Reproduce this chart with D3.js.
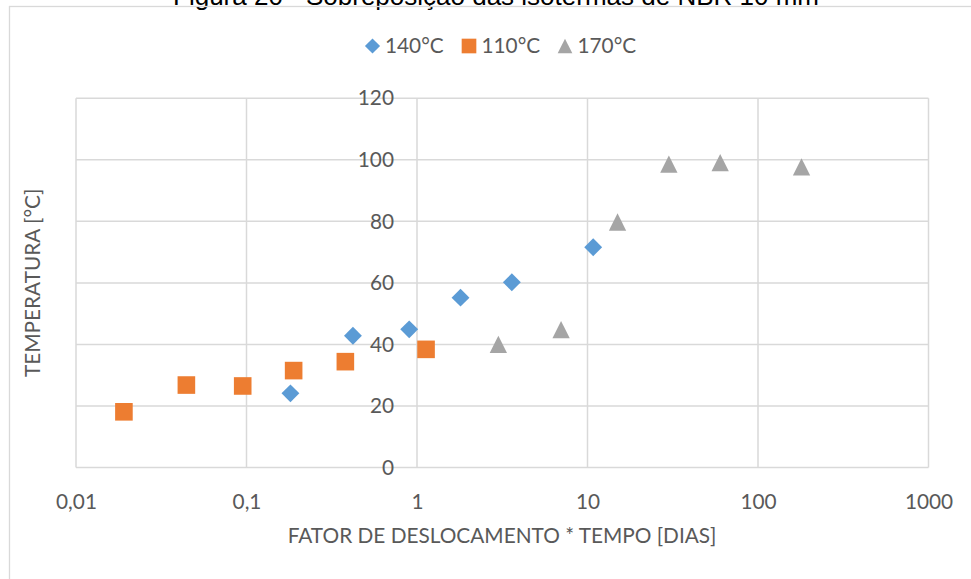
<!DOCTYPE html>
<html>
<head>
<meta charset="utf-8">
<script src="https://cdn.jsdelivr.net/npm/d3@7/dist/d3.min.js"></script>
<style>
  html, body { margin: 0; padding: 0; background: #fff; }
  svg { display: block; }
</style>
</head>
<body>
<svg id="chart" width="971" height="579"></svg>
<script>
// Shifted time (days) and temperature for each isotherm
const series140x = [0.181, 0.421, 0.90, 1.80, 3.6, 10.8];
const series140y = [24.1, 42.8, 44.9, 55.2, 60.2, 71.6];
const series110x = [0.0191, 0.0444, 0.095, 0.189, 0.380, 1.13];
const series110y = [18.1, 26.8, 26.5, 31.5, 34.4, 38.4];
const series170x = [3.0, 7.0, 15.0, 30.0, 60.0, 180.0];
const series170y = [40.0, 44.8, 79.8, 98.6, 99.1, 97.7];

const seriesNames = ["140°C", "110°C", "170°C"];
const xTicks = [0.01, 0.1, 1, 10, 100, 1000];
const xTickLabels = ["0,01", "0,1", "1", "10", "100", "1000"];
const yTicks = [0, 20, 40, 60, 80, 100, 120];
const yTickLabels = ["0", "20", "40", "60", "80", "100", "120"];

const titleText = "Figura 20 - Sobreposição das isotermas de NBR 10 mm";
const xTitle = "FATOR DE DESLOCAMENTO * TEMPO [DIAS]";
const yTitle = "TEMPERATURA [°C]";

const colors = ["#5B9BD5", "#ED7D31", "#A5A5A5"];
const gridColor = "#D9D9D9";
const textColor = "#595959";
const font = "Lato, 'Open Sans', sans-serif";
const fontSize = 20.8;

const svg = d3.select("#chart");

const x = d3.scaleLog().domain([0.01, 1000]).range([76, 928.5]);
const y = d3.scaleLinear().domain([0, 120]).range([467.5, 98.3]);

// Caption above the chart frame (partially cut at top)
svg.append("text")
  .attr("x", 496).attr("y", 4.5)
  .attr("text-anchor", "middle")
  .attr("font-family", "'Liberation Sans', Arial, sans-serif")
  .attr("font-size", 26)
  .attr("fill", "#000")
  .text(titleText);

// Chart frame
svg.append("rect")
  .attr("x", 9.5).attr("y", 6.5)
  .attr("width", 1000).attr("height", 1000)
  .attr("fill", "none")
  .attr("stroke", gridColor)
  .attr("stroke-width", 1.3);

// Gridlines
const grid = svg.append("g");
grid.selectAll("line.h").data(yTicks).join("line")
  .attr("class", "h")
  .attr("x1", x(0.01)).attr("x2", x(1000))
  .attr("y1", d => y(d)).attr("y2", d => y(d))
  .attr("stroke", gridColor).attr("stroke-width", 1.5);
grid.selectAll("line.v").data(xTicks).join("line")
  .attr("class", "v")
  .attr("x1", d => x(d)).attr("x2", d => x(d))
  .attr("y1", y(120)).attr("y2", y(0))
  .attr("stroke", gridColor).attr("stroke-width", 1.5);

// Axes: the value axis crosses at x = 1
const xAxis = d3.axisBottom(x)
  .tickValues(xTicks)
  .tickFormat((d, i) => xTickLabels[i])
  .tickSize(0).tickPadding(27);
const gx = svg.append("g").attr("transform", `translate(0,${y(0)})`).call(xAxis);

const yAxis = d3.axisLeft(y)
  .tickValues(yTicks)
  .tickFormat((d, i) => yTickLabels[i])
  .tickSize(0).tickPadding(23);
const gy = svg.append("g").attr("transform", `translate(${x(1)},0)`).call(yAxis);

[gx, gy].forEach(g => {
  g.select(".domain").remove();
  g.selectAll("text")
    .attr("font-family", font)
    .attr("font-size", fontSize)
    .attr("fill", textColor);
});

// Axis titles
svg.append("text")
  .attr("x", 502).attr("y", 543)
  .attr("text-anchor", "middle")
  .attr("font-family", font).attr("font-size", fontSize)
  .attr("fill", textColor)
  .text(xTitle);

svg.append("text")
  .attr("transform", `translate(40,${(y(0) + y(120)) / 2}) rotate(-90)`)
  .attr("text-anchor", "middle")
  .attr("font-family", font).attr("font-size", fontSize)
  .attr("fill", textColor)
  .text(yTitle);

// Marker shapes
const diamond = {
  draw(ctx, size) {
    const r = Math.sqrt(size) / 2 * Math.SQRT2;
    ctx.moveTo(0, -r); ctx.lineTo(r, 0); ctx.lineTo(0, r); ctx.lineTo(-r, 0); ctx.closePath();
  }
};
const square = {
  draw(ctx, size) {
    const h = Math.sqrt(size) / 2;
    ctx.rect(-h, -h, 2 * h, 2 * h);
  }
};
const triangle = {
  draw(ctx, size) {
    const h = Math.sqrt(size) / 2;
    ctx.moveTo(0, -h); ctx.lineTo(h, h); ctx.lineTo(-h, h); ctx.closePath();
  }
};
const shapes = [diamond, square, triangle];
const sizes = [160, 310, 300];

const allSeries = [
  { xs: series140x, ys: series140y },
  { xs: series110x, ys: series110y },
  { xs: series170x, ys: series170y }
];

allSeries.forEach((s, k) => {
  const pts = s.xs.map((v, i) => [v, s.ys[i]]);
  svg.append("g").selectAll("path").data(pts).join("path")
    .attr("transform", d => `translate(${x(d[0])},${y(d[1])})`)
    .attr("d", d3.symbol().type(shapes[k]).size(sizes[k]))
    .attr("fill", colors[k]);
});

// Legend
const legendItems = [
  { mx: 372.5, tx: 385 },
  { mx: 469, tx: 481.5 },
  { mx: 565, tx: 577.5 }
];
const legendSizes = [115, 215, 215];
const lg = svg.append("g");
seriesNames.forEach((name, k) => {
  lg.append("path")
    .attr("transform", `translate(${legendItems[k].mx},46)`)
    .attr("d", d3.symbol().type(shapes[k]).size(legendSizes[k]))
    .attr("fill", colors[k]);
  lg.append("text")
    .attr("x", legendItems[k].tx).attr("y", 46)
    .attr("dy", "0.35em")
    .attr("font-family", font).attr("font-size", fontSize)
    .attr("fill", textColor)
    .text(name);
});
</script>
</body>
</html>
